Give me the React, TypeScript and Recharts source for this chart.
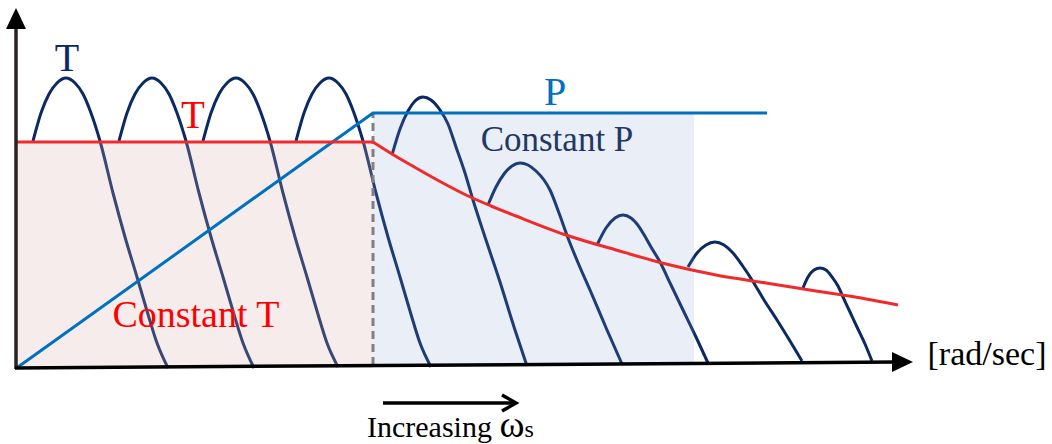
import React from 'react';
import { ComposedChart, Line, XAxis, YAxis, ReferenceArea, ReferenceLine, ReferenceDot } from 'recharts';

// speed (w) vs torque (t), arbitrary units
const curve1 = [[17, 227], [25, 255], [33, 274], [41, 285], [50, 290], [59, 285], [67, 274], [75, 255], [84, 227], [97, 175], [109, 131], [121, 91], [131, 57], [141, 25], [152, 0]];
const curve2 = [[103, 227], [111, 255], [119, 274], [127, 285], [136, 290], [145, 285], [153, 274], [161, 255], [170, 227], [183, 175], [195, 131], [207, 91], [217, 57], [227, 25], [238, 0]];
const curve3 = [[187, 227], [195, 255], [203, 274], [211, 285], [220, 290], [229, 285], [237, 274], [245, 255], [254, 227], [267, 175], [279, 131], [291, 91], [301, 57], [311, 25], [322, 1]];
const curve4 = [[280, 227], [288, 255], [296, 274], [304, 285], [313, 290], [322, 285], [330, 274], [338, 255], [347, 227], [360, 175], [372, 131], [384, 91], [394, 57], [404, 25], [415, 1]];
const curve5 = [[376, 213], [384, 239], [392, 257], [399, 267], [407, 271], [415, 268], [424, 258], [432, 244], [440, 221], [449, 195], [457, 168], [470, 128], [484, 86], [499, 38], [511, 2]];
const curve6 = [[472, 163], [480, 181], [488, 194], [496, 202], [504, 205], [512, 203], [520, 197], [528, 188], [534, 178], [543, 155], [552, 130], [563, 103], [574, 78], [591, 38], [606, 4]];
const curve7 = [[581, 123], [590, 140], [599, 150], [607, 153], [615, 150], [621, 144], [627, 135], [635, 121], [644, 106], [655, 83], [667, 58], [680, 31], [692, 5]];
const curve8 = [[672, 101], [681, 115], [690, 123], [699, 126], [708, 123], [717, 115], [726, 103], [736, 88], [748, 68], [761, 48], [774, 27], [786, 7]];
const curve9 = [[787, 80], [792, 91], [798, 98], [804, 100], [810, 98], [816, 91], [822, 82], [827, 71], [834, 56], [841, 41], [849, 24], [856, 7]];
const torqueCurves = [curve1, curve2, curve3, curve4, curve5, curve6, curve7, curve8, curve9];

const constTorque = [[0, 226], [357, 226]];
const fieldWeakTorque = [[357, 226], [376, 214], [400, 200], [425, 186], [450, 173], [475, 162], [500, 152], [550, 133], [600, 118], [650, 104], [700, 93], [750, 85], [800, 77], [850, 69], [882, 63]];
const power = [[2, 1], [357, 255], [751, 255]];
const yAxisLine = [[0, -1], [0, 342]];
const xAxisLine = [[-1, 0], [880, 6]];

const baseSpeed = 357;
const maxPowerSpeed = 678;
const ratedTorque = 226;
const ratedPower = 255;

const FONT = '"Liberation Serif", "Times New Roman", serif';
const NAVY = '#0b2a63';
const RED = '#f02b2b';
const BLUE = '#0070c0';

const toRows = (pts: number[][]) => pts.map(([w, t]) => ({ w, t }));

const textShape = (text: React.ReactNode, color: string, size: number, anchor = 'middle') => (p: any) => (
  <text x={p.cx} y={p.cy} fill={color} fontSize={size} fontFamily={FONT} textAnchor={anchor}>
    {text}
  </text>
);

const upHead = (p: any) => (
  <polygon points={`${p.cx},${p.cy} ${p.cx - 10},${p.cy + 21} ${p.cx + 10},${p.cy + 21}`} fill="#000" />
);
const rightHead = (p: any) => (
  <polygon points={`${p.cx},${p.cy} ${p.cx - 21},${p.cy - 10} ${p.cx - 21},${p.cy + 10}`} fill="#000" />
);
const chevron = (p: any) => (
  <path d={`M${p.cx - 14},${p.cy - 8} L${p.cx},${p.cy} L${p.cx - 14},${p.cy + 8}`} stroke="#000" strokeWidth={3.5} fill="none" />
);

// zIndex lets the shaded boxes sit over the navy curves but under the red/blue lines
const zi: any = (n: number) => ({ zIndex: n });

export default function App() {
  const line = (pts: number[][], color: string, width: number, type: any, z: number, key?: any) => (
    <Line
      key={key}
      data={toRows(pts)}
      dataKey="t"
      type={type}
      stroke={color}
      strokeWidth={width}
      dot={false}
      activeDot={false}
      isAnimationActive={false}
      {...zi(z)}
    />
  );

  return (
    <div style={{ position: 'absolute', left: 0, top: 0, width: 1052, height: 444, background: '#fff' }}>
      <ComposedChart width={1052} height={444} margin={{ top: 0, right: 0, bottom: 0, left: 0 }}>
        <XAxis type="number" dataKey="w" domain={[-16, 1036]} allowDataOverflow hide />
        <YAxis type="number" dataKey="t" domain={[-76, 368]} allowDataOverflow hide />

        {torqueCurves.map((c, i) => line(c, NAVY, 3, 'monotone', 400, i))}

        <ReferenceArea x1={0} x2={baseSpeed} y1={0} y2={ratedTorque} fill="rgb(216,174,174)" fillOpacity={0.23} stroke="none" {...zi(450)} />
        <ReferenceArea x1={baseSpeed} x2={maxPowerSpeed} y1={3} y2={ratedPower} fill="rgb(127,156,208)" fillOpacity={0.17} stroke="none" {...zi(450)} />

        <ReferenceLine segment={[{ x: baseSpeed, y: 3 }, { x: baseSpeed, y: ratedPower }]} stroke="#808080" strokeWidth={3} strokeDasharray="8 5" {...zi(460)} />

        {line(power, BLUE, 3, 'linear', 500)}
        {line(constTorque, RED, 3, 'linear', 500)}
        {line(fieldWeakTorque, RED, 3, 'monotone', 500)}

        {/* axes */}
        {line(yAxisLine, '#2a2222', 3.5, 'linear', 550)}
        {line(xAxisLine, '#000', 3.5, 'linear', 550)}
        <ReferenceDot x={0} y={360} r={0} shape={upHead} {...zi(600)} />
        <ReferenceDot x={897} y={6} r={0} shape={rightHead} {...zi(600)} />

        <ReferenceLine segment={[{ x: 367, y: -35 }, { x: 498, y: -35 }]} stroke="#000" strokeWidth={3.5} />
        <ReferenceDot x={500} y={-35} r={0} shape={chevron} />

        {/* labels */}
        <ReferenceDot x={51} y={297} r={0} shape={textShape('T', NAVY, 40)} {...zi(600)} />
        <ReferenceDot x={177} y={240} r={0} shape={textShape('T', '#ff0000', 39)} {...zi(600)} />
        <ReferenceDot x={539} y={263} r={0} shape={textShape('P', BLUE, 40)} {...zi(600)} />
        <ReferenceDot x={541} y={217} r={0} shape={textShape('Constant P', '#1f3864', 35)} {...zi(600)} />
        <ReferenceDot x={180} y={41} r={0} shape={textShape('Constant T', '#ff0000', 38)} {...zi(600)} />
        <ReferenceDot x={971} y={3} r={0} shape={textShape('[rad/sec]', '#000', 34)} />
        <ReferenceDot
          x={351}
          y={-69}
          r={0}
          shape={textShape(
            <>
              Increasing <tspan fontSize={38}>ω</tspan>
              <tspan fontSize={24}>s</tspan>
            </>,
            '#000',
            30,
            'start'
          )}
        />
      </ComposedChart>
    </div>
  );
}
